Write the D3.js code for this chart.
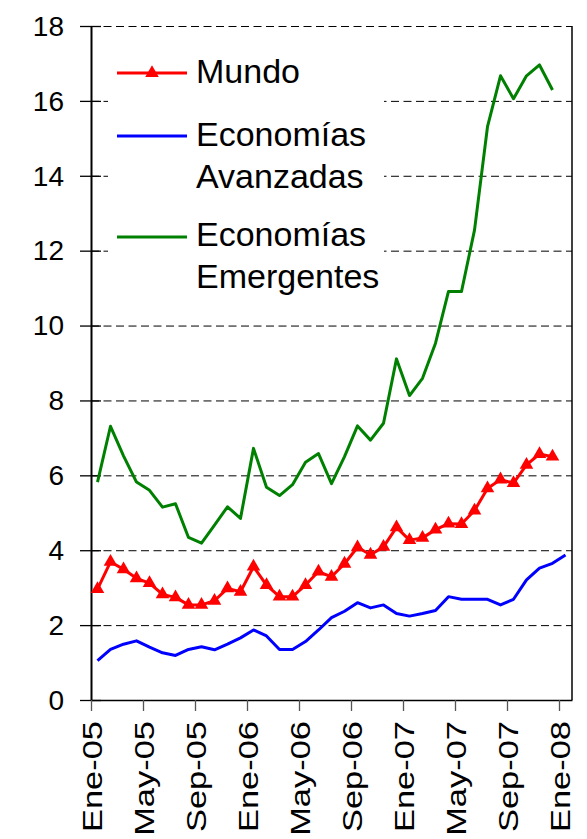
<!DOCTYPE html>
<html><head><meta charset="utf-8">
<script src="https://cdn.jsdelivr.net/npm/d3@7"></script>
<style>html,body{margin:0;padding:0;background:#fff;} svg{display:block;}</style>
</head><body>
<svg id="chart" width="587" height="839"></svg>
<script>
const categories = ["Ene-05","Feb-05","Mar-05","Abr-05","May-05","Jun-05","Jul-05","Ago-05","Sep-05","Oct-05","Nov-05","Dic-05",
  "Ene-06","Feb-06","Mar-06","Abr-06","May-06","Jun-06","Jul-06","Ago-06","Sep-06","Oct-06","Nov-06","Dic-06",
  "Ene-07","Feb-07","Mar-07","Abr-07","May-07","Jun-07","Jul-07","Ago-07","Sep-07","Oct-07","Nov-07","Dic-07","Ene-08"];
const tickLabels = ["Ene-05","May-05","Sep-05","Ene-06","May-06","Sep-06","Ene-07","May-07","Sep-07","Ene-08"];
const yTicks = [0,2,4,6,8,10,12,14,16,18];
const mundo = [2.96,3.69,3.49,3.25,3.12,2.82,2.74,2.54,2.54,2.65,2.98,2.89,
  3.56,3.07,2.76,2.76,3.07,3.43,3.29,3.64,4.08,3.88,4.09,4.61,
  4.27,4.33,4.55,4.71,4.70,5.06,5.65,5.89,5.79,6.28,6.57,6.50];
const avanzadas = [1.05,1.35,1.49,1.58,1.41,1.26,1.19,1.35,1.42,1.34,1.49,1.66,
  1.87,1.71,1.35,1.35,1.56,1.87,2.20,2.37,2.60,2.46,2.54,2.31,
  2.24,2.31,2.39,2.76,2.69,2.69,2.69,2.54,2.69,3.21,3.52,3.65,3.87];
const emergentes = [5.82,7.31,6.52,5.82,5.60,5.15,5.24,4.34,4.19,4.67,5.16,4.85,
  6.72,5.68,5.46,5.75,6.35,6.58,5.78,6.50,7.32,6.94,7.39,9.11,
  8.13,8.59,9.53,10.91,10.91,12.55,15.31,16.67,16.06,16.67,16.96,16.29];
const seriesNames = ["Mundo","Economías Avanzadas","Economías Emergentes"];

const svg = d3.select("#chart");
const font = "'Liberation Sans', Arial, Helvetica, sans-serif";
const L = 91, R = 572, T = 26, B = 700;
const x = d3.scaleLinear().domain([0, categories.length]).range([L, R]);
const y = d3.scaleLinear().domain([0, 18]).range([B, T]);
const cx = i => x(i + 0.5);

// gridlines
svg.append("g").selectAll("line").data(yTicks.filter(d => d > 0)).join("line")
  .attr("x1", L).attr("x2", R)
  .attr("y1", d => y(d) + 0.5).attr("y2", d => y(d) + 0.5)
  .attr("stroke", "#000").attr("stroke-width", 1).attr("stroke-dasharray", "8,4.5");

// legend background
svg.append("rect").attr("x", 108).attr("y", 40).attr("width", 276).attr("height", 264).attr("fill", "#fff");

// right border
svg.append("line").attr("x1", R).attr("x2", R).attr("y1", T).attr("y2", B)
  .attr("stroke", "#000").attr("stroke-width", 1.5);

// y axis
const ya = svg.append("g").attr("transform", `translate(${L},0)`)
  .call(d3.axisLeft(y).tickValues(yTicks).tickSizeInner(11).tickSizeOuter(0).tickPadding(16));
ya.select(".domain").attr("stroke-width", 2);
ya.selectAll(".tick line").attr("x1", -11).attr("x2", 10).attr("stroke-width", 1.3);
ya.selectAll(".tick text").attr("font-family", font).attr("font-size", 28).attr("fill", "#000").attr("dy", "0.33em");

// x axis
const xa = svg.append("g").attr("transform", `translate(0,${B})`)
  .call(d3.axisBottom(x).tickValues(d3.range(0, categories.length, 4))
    .tickFormat((d, i) => tickLabels[i]).tickSizeInner(11).tickSizeOuter(0));
xa.select(".domain").attr("stroke-width", 1.5);
xa.selectAll(".tick line").attr("stroke", "#555").attr("stroke-width", 1.3);
xa.selectAll(".tick text")
  .attr("font-family", font).attr("font-size", 28).attr("fill", "#000")
  .attr("x", 0).attr("y", 0).attr("dy", "0.375em").attr("text-anchor", "end")
  .attr("transform", `translate(0,21) rotate(-90) scale(1.23,1)`);

// lines
const line = d3.line().x((d, i) => cx(i)).y(d => y(d));
svg.append("path").datum(emergentes).attr("d", line).attr("fill", "none")
  .attr("stroke", "#008000").attr("stroke-width", 3).attr("stroke-linejoin", "round");
svg.append("path").datum(avanzadas).attr("d", line).attr("fill", "none")
  .attr("stroke", "#0000FF").attr("stroke-width", 3).attr("stroke-linejoin", "round");
svg.append("path").datum(mundo).attr("d", line).attr("fill", "none")
  .attr("stroke", "#FF0000").attr("stroke-width", 3).attr("stroke-linejoin", "round");
const tri = d3.symbol(d3.symbolTriangle, 80);
svg.append("g").selectAll("path").data(mundo).join("path")
  .attr("d", tri).attr("transform", (d, i) => `translate(${cx(i)},${y(d)})`)
  .attr("fill", "#FF0000");

// legend
const lg = svg.append("g").attr("font-family", font).attr("font-size", 34).attr("fill", "#000");
const legendItems = [
  {color: "#FF0000", ly: 73, marker: true, lines: ["Mundo"], ty: [83]},
  {color: "#0000FF", ly: 136, marker: false, lines: ["Economías", "Avanzadas"], ty: [146, 188]},
  {color: "#008000", ly: 237, marker: false, lines: ["Economías", "Emergentes"], ty: [246, 288]}
];
legendItems.forEach(it => {
  lg.append("line").attr("x1", 117).attr("x2", 187).attr("y1", it.ly).attr("y2", it.ly)
    .attr("stroke", it.color).attr("stroke-width", 3);
  if (it.marker) lg.append("path").attr("d", tri).attr("transform", `translate(152,${it.ly})`).attr("fill", it.color);
  it.lines.forEach((t, k) => lg.append("text").attr("x", 196).attr("y", it.ty[k]).text(t));
});
</script>
</body></html>
